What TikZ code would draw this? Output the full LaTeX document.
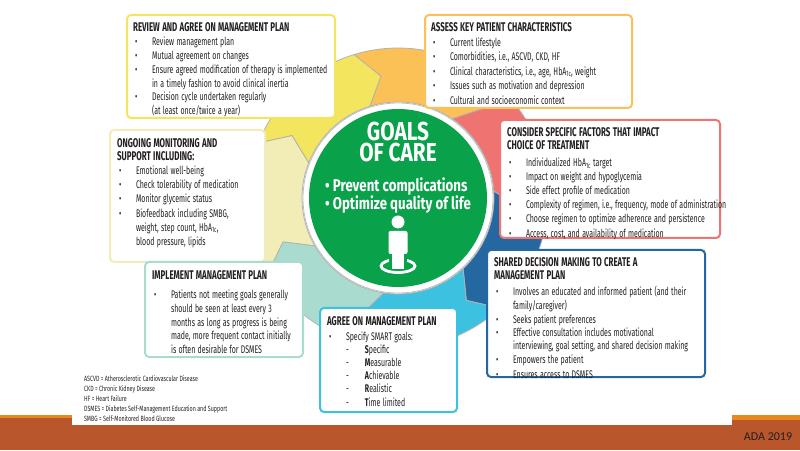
\documentclass[tikz,border=0pt]{standalone}
\usepackage{fontspec}
\setmainfont{Fira Sans}
\newfontfamily\adafont{Carlito}
\definecolor{cYel}{HTML}{F4E55E}
\definecolor{cOra}{HTML}{FBC157}
\definecolor{cRed}{HTML}{EF7471}
\definecolor{cDbl}{HTML}{2467A1}
\definecolor{cLbl}{HTML}{3CC2E0}
\definecolor{cMin}{HTML}{A9DCCF}
\definecolor{cCre}{HTML}{F2ECB6}
\definecolor{cGrn}{HTML}{0AA14B}
\definecolor{cBar}{HTML}{B9562C}
\definecolor{cBarO}{HTML}{E8891E}
\definecolor{cTxt}{HTML}{231F20}
\newcommand{\bi}[1]{\par\noindent\makebox[30pt][l]{\hspace{3pt}•}\parbox[t]{\dimexpr\linewidth-30pt}{\raggedright #1\strut}}
\newcommand{\di}[1]{\par\noindent\hspace{30pt}\makebox[30pt][l]{-}#1}
\newcommand{\hba}{HbA\textsubscript{1c}}
\newcommand{\hd}[1]{{\bfseries\fontsize{12.6}{13.5}\selectfont #1\par}}
\newcommand{\txtsetup}{\fontsize{11.1}{14.4}\selectfont\raggedright\hyphenpenalty=10000 \exhyphenpenalty=10000 }
\newcommand{\tight}[1]{\fontsize{11.1}{#1}\selectfont}
\begin{document}
\begin{tikzpicture}[x=1pt,y=1pt,
  box/.style={draw, line width=2pt, rounded corners=4pt, fill=white},
  txt/.style={anchor=north west, text=cTxt, font=\txtsetup, inner sep=0pt, xscale=0.63, transform shape},
  seg/.style={draw=gray!60, line width=0.8pt}]
\useasboundingbox (0,0) rectangle (800,450);
% bottom bar
\fill[cBar] (0,0) rectangle (800,35);
\fill[cBarO] (0,32) rectangle (72,35);
\fill[cBarO] (732,30) rectangle (800,35);
\fill[white] (72,25) rectangle (732,35);
\node[font=\adafont\fontsize{12}{12}\selectfont, text=cTxt] (ada) at (768,13) {ADA 2019};
% ring
\begin{scope}[shift={(398,252)}]
\def\Ri{96}\def\Ro{150}\def\Rm{123}\def\d{9}
\foreach \s/\c in {107/cOra,55.57/cRed,4.14/cDbl,-47.29/cLbl,-98.71/cMin,-150.14/cCre,-201.57/cYel}{
  \pgfmathsetmacro\e{\s-51.43}
  \pgfmathsetmacro\sd{\s-\d}
  \pgfmathsetmacro\ed{\e-\d}
  \filldraw[seg, fill=\c] (\s:\Ro) arc[start angle=\s, end angle=\e, radius=\Ro] -- (\ed:\Rm) -- (\e:\Ri) arc[start angle=\e, end angle=\s, radius=\Ri] -- (\sd:\Rm) -- cycle;
}
\filldraw[fill=white, draw=gray!50, line width=0.8pt] (0,0) circle (95);
\fill[cGrn] (0,0) circle (89);
\end{scope}
\node[coordinate] (c) at (398,252) {};
\node[text=white, font=\bfseries\fontsize{26}{21}\selectfont, align=center, xscale=0.8, transform shape] (goals) at (398,308) {GOALS\\OF CARE};
\node[text=white, font=\bfseries\fontsize{17}{18.5}\selectfont, align=left, anchor=north, xscale=0.78, transform shape] (gl) at (398,276) {• Prevent complications\\• Optimize quality of life};
% person icon
\draw[white, line width=2.8pt] (398,184) ellipse (17 and 6.5);
\fill[cGrn] (389,181) rectangle (407,205);
\fill[white] (398,228) circle (6.5);
\fill[white, rounded corners=2pt] (388.5,196) rectangle (407.5,219);
\fill[white] (392,181) rectangle (404,198);
% boxes
\draw[box, draw=cYel] (127,435) rectangle (335,332);
\node[txt, text width=315pt] (rev) at (133,428) {\hd{REVIEW AND AGREE ON MANAGEMENT PLAN}\tight{14}
\bi{Review management plan}
\bi{Mutual agreement on changes}
\bi{Ensure agreed modification of therapy is implemented\\in a timely fashion to avoid clinical inertia}
\bi{Decision cycle undertaken regularly\\(at least once/twice a year)}};
\draw[box, draw=cOra] (425,435) rectangle (632,342);
\node[txt, text width=315pt] (ass) at (431,428) {\hd{ASSESS KEY PATIENT CHARACTERISTICS}\vspace{1pt}
\bi{Current lifestyle}
\bi{Comorbidities, i.e., ASCVD, CKD, HF}
\bi{Clinical characteristics, i.e., age, \hba, weight}
\bi{Issues such as motivation and depression}
\bi{Cultural and socioeconomic context}};
\draw[box, draw=cCre] (110,320) rectangle (265,188);
\node[txt, text width=235pt] (ong) at (117,312) {\hd{ONGOING MONITORING AND\\SUPPORT INCLUDING:}\tight{14}
\bi{Emotional well-being}
\bi{Check tolerability of medication}
\bi{Monitor glycemic status}
\bi{Biofeedback including SMBG,\\weight, step count, \hba,\\blood pressure, lipids}};
\draw[box, draw=cRed] (500,330) rectangle (720,212);
\node[txt, text width=360pt] (con) at (507,323) {\hd{CONSIDER SPECIFIC FACTORS THAT IMPACT\\CHOICE OF TREATMENT}\vspace{3pt}\tight{14}
\bi{Individualized \hba\ target}
\bi{Impact on weight and hypoglycemia}
\bi{Side effect profile of medication}
\bi{Complexity of regimen, i.e., frequency, mode of administration}
\bi{Choose regimen to optimize adherence and persistence}
\bi{Access, cost, and availability of medication}};
\draw[box, draw=cMin] (145,188) rectangle (303,93);
\node[txt, text width=240pt] (imp) at (152,180) {\hd{IMPLEMENT MANAGEMENT PLAN}\vspace{5pt}\tight{13.8}
\bi{Patients not meeting goals generally\\should be seen at least every 3\\months as long as progress is being\\made, more frequent contact initially\\is often desirable for DSMES}};
\draw[box, draw=cDbl] (487,200) rectangle (705,73);
\node[txt, text width=340pt] (sha) at (494,193) {\hd{SHARED DECISION MAKING TO CREATE A\\MANAGEMENT PLAN}\vspace{3pt}\tight{13.2}
\bi{Involves an educated and informed patient (and their\\family/caregiver)}
\bi{Seeks patient preferences}
\bi{Effective consultation includes motivational\\interviewing, goal setting, and shared decision making}
\bi{Empowers the patient}
\bi{Ensures access to DSMES}};
\draw[box, draw=cLbl] (320,142) rectangle (457,38);
\node[txt, text width=210pt] (agr) at (327,134) {\hd{AGREE ON MANAGEMENT PLAN}\vspace{2pt}\tight{13}
\bi{Specify SMART goals:}
\di{\textbf{S}pecific}
\di{\textbf{M}easurable}
\di{\textbf{A}chievable}
\di{\textbf{R}ealistic}
\di{\textbf{T}ime limited}};
% footnotes
\node[anchor=north west, inner sep=0pt, text=cTxt, align=left, font=\fontsize{7.6}{10.2}\selectfont, xscale=0.7, transform shape] (fn) at (84,75) {ASCVD = Atherosclerotic Cardiovascular Disease\\CKD = Chronic Kidney Disease\\HF = Heart Failure\\DSMES = Diabetes Self-Management Education and Support\\SMBG = Self-Monitored Blood Glucose};
\end{tikzpicture}
\end{document}
